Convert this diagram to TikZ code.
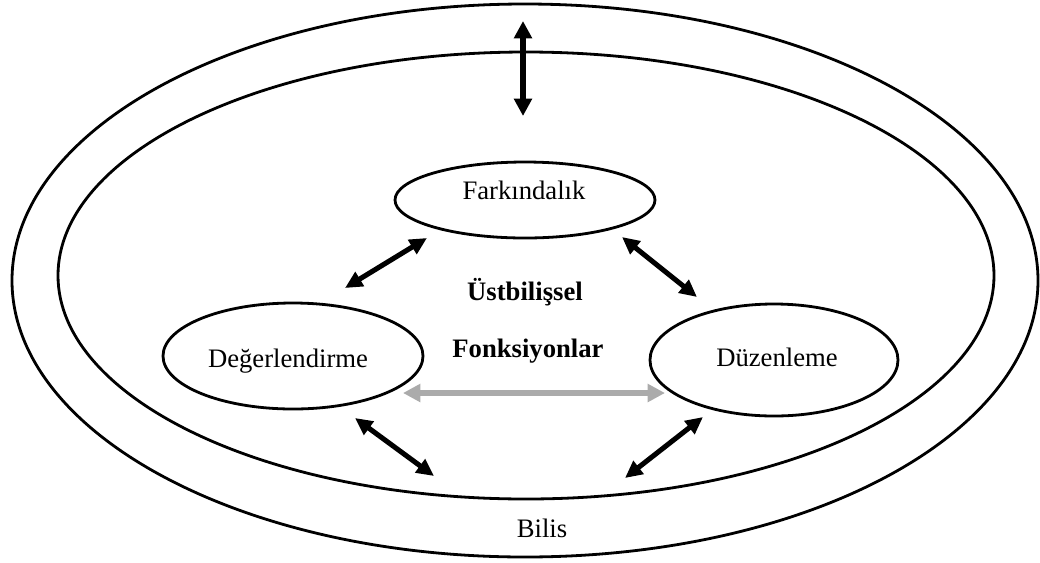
\documentclass[tikz,border=0pt]{standalone}
\usepackage{fontspec}
\setmainfont{Liberation Serif}
\usetikzlibrary{shapes.geometric,arrows.meta}
\begin{document}
\begin{tikzpicture}[x=0.75pt,y=-0.75pt,
  ring/.style={draw,ellipse,line width=2.1pt,inner sep=0pt,outer sep=0pt},
  txt/.style={font=\fontsize{20}{24}\selectfont,inner sep=0pt,anchor=base},
  boldtxt/.style={txt,font=\fontsize{20}{24}\selectfont\bfseries},
  link/.style={line width=3.8pt,
    {Triangle[length=13pt,width=12pt]}-{Triangle[length=13pt,width=12pt]}},
  sidelink/.style={line width=4.4pt,color=black!33,
    {Triangle[length=13pt,width=13pt]}-{Triangle[length=13pt,width=13pt]}}]
\useasboundingbox (0,0) rectangle (1040,562);

% cognition rings
\node[ring,minimum width=769.5pt,minimum height=414.75pt] (outer) at (525,280.5) {};
\node[ring,minimum width=702pt,minimum height=335.25pt] (inner) at (526,275.5) {};

% metacognitive functions
\node[ring,minimum width=195pt,minimum height=57pt] (fark) at (525,200) {};
\node[ring,minimum width=195pt,minimum height=79.5pt] (deg) at (293,356) {};
\node[ring,minimum width=186pt,minimum height=84pt] (duz) at (774,360) {};

\node[txt] (farkT) at (524,199) {Farkındalık};
\node[txt] (degT) at (288,367) {Değerlendirme};
\node[txt] (duzT) at (777,366) {Düzenleme};
\node[boldtxt] (ust) at (525,300) {Üstbilişsel};
\node[boldtxt] (fonk) at (528,357) {Fonksiyonlar};
\node[txt] (bilis) at (542,537) {Bilis};

% arrow end points
\coordinate (topA) at (523,21);
\coordinate (topB) at (523,116);
\coordinate (fdA) at (427,238);
\coordinate (fdB) at (345,288);
\coordinate (fzA) at (622,237);
\coordinate (fzB) at (697,297);
\coordinate (gA) at (403,393);
\coordinate (gB) at (665,393);
\coordinate (dbA) at (355,418);
\coordinate (dbB) at (434,476);
\coordinate (zbA) at (703,417);
\coordinate (zbB) at (625,478);

\draw[link,line width=4.2pt,{Triangle[length=13pt,width=13pt]}-{Triangle[length=13pt,width=13pt]}] (topA) -- (topB);
\draw[link] (fdA) -- (fdB);
\draw[link] (fzA) -- (fzB);
\draw[sidelink] (gA) -- (gB);
\draw[link] (dbA) -- (dbB);
\draw[link] (zbA) -- (zbB);
\end{tikzpicture}
\end{document}
